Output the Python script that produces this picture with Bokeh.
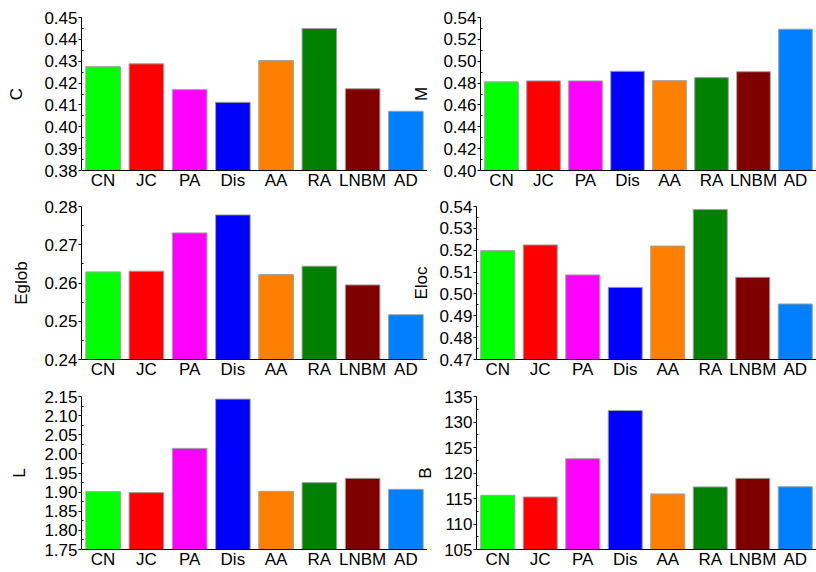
from bokeh.plotting import figure
from bokeh.layouts import row, column
from bokeh.models import ColumnDataSource, Range1d, FixedTicker, PrintfTickFormatter
from bokeh.embed import file_html
from bokeh.resources import INLINE

# ---- data ----
categories = ["CN", "JC", "PA", "Dis", "AA", "RA", "LNBM", "AD"]
bar_colors = ["#00FF00", "#FF0000", "#FF00FF", "#0000FF", "#FF8000", "#008000", "#800000", "#0080FF"]

C_values = [0.4275, 0.4288, 0.4170, 0.4112, 0.4303, 0.4450, 0.4174, 0.4071]
M_values = [0.4811, 0.4820, 0.4820, 0.4908, 0.4822, 0.4850, 0.4904, 0.5293]
Eglob_values = [0.2629, 0.2631, 0.2731, 0.2778, 0.2622, 0.2644, 0.2595, 0.2517]
Eloc_values = [0.5198, 0.5224, 0.5087, 0.5030, 0.5219, 0.5386, 0.5076, 0.4954]
L_values = [1.9013, 1.8987, 2.0143, 2.1432, 1.9022, 1.9248, 1.9360, 1.9073]
B_values = [115.63, 115.30, 122.80, 132.26, 115.90, 117.27, 118.95, 117.30]

C_ticks = [0.38, 0.39, 0.40, 0.41, 0.42, 0.43, 0.44, 0.45]
M_ticks = [0.40, 0.42, 0.44, 0.46, 0.48, 0.50, 0.52, 0.54]
Eglob_ticks = [0.24, 0.25, 0.26, 0.27, 0.28]
Eloc_ticks = [0.47, 0.48, 0.49, 0.50, 0.51, 0.52, 0.53, 0.54]
L_ticks = [1.75, 1.80, 1.85, 1.90, 1.95, 2.00, 2.05, 2.10, 2.15]
B_ticks = [105, 110, 115, 120, 125, 130, 135]

FONT = "Liberation Sans"


def panel(values, label, ticks, fmt, side, height, border_top, border_bottom, label_standoff):
    left = side == "left"
    kw = dict(width=427 if left else 407, height=height,
              min_border_left=81 if left else 67, min_border_right=0,
              min_border_top=border_top, min_border_bottom=border_bottom)
    if not left:
        kw["margin"] = (0, 0, 0, -18)
    p = figure(x_range=categories, y_range=Range1d(ticks[0], ticks[-1]),
               output_backend="svg", toolbar_location=None, **kw)
    if not left:
        p.border_fill_color = None
        p.background_fill_color = None
    src = ColumnDataSource(dict(cat=categories, val=values, color=bar_colors))
    p.vbar(x="cat", top="val", bottom=ticks[0], width=0.8, source=src,
           fill_color="color", line_color="#a0a0a0", line_width=1)
    p.xgrid.visible = False
    p.ygrid.visible = False
    p.outline_line_color = None

    xa = p.xaxis[0]
    xa.major_tick_out = 0
    xa.major_tick_in = 0
    xa.minor_tick_out = 0
    xa.major_tick_line_color = None
    xa.minor_tick_line_color = None
    xa.axis_line_color = "black"
    xa.major_label_standoff = 0
    xa.major_label_text_font = FONT
    xa.major_label_text_font_size = "17px"
    xa.major_label_text_color = "black"

    ya = p.yaxis[0]
    minor = [(a + b) / 2 for a, b in zip(ticks[:-1], ticks[1:])]
    ya.ticker = FixedTicker(ticks=ticks, minor_ticks=minor)
    ya.formatter = PrintfTickFormatter(format=fmt)
    ya.axis_line_color = "black"
    ya.major_tick_out = 3
    ya.major_tick_in = 0
    ya.minor_tick_out = 0
    ya.minor_tick_in = 2
    ya.major_tick_line_color = "black"
    ya.minor_tick_line_color = "black"
    ya.major_label_standoff = 1
    ya.major_label_text_font = FONT
    ya.major_label_text_font_size = "17px"
    ya.major_label_text_color = "black"
    ya.axis_label = label
    ya.axis_label_standoff = label_standoff
    ya.axis_label_text_font = FONT
    ya.axis_label_text_font_size = "17px"
    ya.axis_label_text_font_style = "normal"
    ya.axis_label_text_color = "black"
    return p


p1 = panel(C_values, "C", C_ticks, "%.2f", "left", 192, 17, 21, 15)
p2 = panel(M_values, "M", M_ticks, "%.2f", "right", 192, 17, 21, 9)
p3 = panel(Eglob_values, "Eglob", Eglob_ticks, "%.2f", "left", 189, 14, 21, 10)
p4 = panel(Eloc_values, "Eloc", Eloc_ticks, "%.2f", "right", 189, 14, 21, 5)
p5 = panel(L_values, "L", L_ticks, "%.2f", "left", 190, 15, 21, 12)
p6 = panel(B_values, "B", B_ticks, "%d", "right", 190, 15, 21, 6)

layout = column(row(p1, p2), row(p3, p4), row(p5, p6))
open("out.html", "w").write(file_html(layout, INLINE))
